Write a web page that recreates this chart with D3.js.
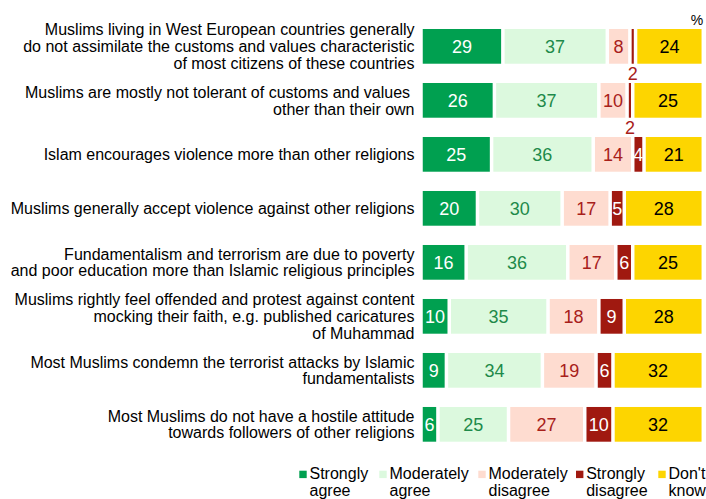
<!DOCTYPE html>
<html>
<head>
<meta charset="utf-8">
<script src="https://cdn.jsdelivr.net/npm/d3@7"></script>
<style>
  html, body { margin: 0; padding: 0; background: #fff; }
  svg { display: block; font-family: "Liberation Sans", Arial, sans-serif; }
  text { white-space: pre; }
</style>
</head>
<body>
<svg id="chart" width="706" height="499"></svg>
<script>
// Statements (each a list of wrapped lines)
const statements = [
  ["Muslims living in West European countries generally",
   "do not assimilate the customs and values characteristic",
   "of most citizens of these countries"],
  ["Muslims are mostly not tolerant of customs and values ",
   "other than their own"],
  ["Islam encourages violence more than other religions"],
  ["Muslims generally accept violence against other religions"],
  ["Fundamentalism and terrorism are due to poverty",
   "and poor education more than Islamic religious principles"],
  ["Muslims rightly feel offended and protest against content",
   "mocking their faith, e.g. published caricatures",
   "of Muhammad"],
  ["Most Muslims condemn the terrorist attacks by Islamic",
   "fundamentalists"],
  ["Most Muslims do not have a hostile attitude",
   "towards followers of other religions"]
];

// Answer shares in %, one value per statement
const stronglyAgree      = [29, 26, 25, 20, 16, 10, 9, 6];
const moderatelyAgree    = [37, 37, 36, 30, 36, 35, 34, 25];
const moderatelyDisagree = [8, 10, 14, 17, 17, 18, 19, 27];
const stronglyDisagree   = [2, 2, 4, 5, 6, 9, 6, 10];
const dontKnow           = [24, 25, 21, 28, 25, 28, 32, 32];

const seriesKeys   = ["sa", "ma", "md", "sd", "dk"];
const seriesLabels = [["Strongly", "agree"], ["Moderately", "agree"],
                      ["Moderately", "disagree"], ["Strongly", "disagree"],
                      ["Don't", "know"]];
const fillColors   = ["#00a050", "#dcf9de", "#fedcd0", "#a01910", "#fdd500"];
const textColors   = ["#ffffff", "#1e8a4a", "#a8201a", "#ffffff", "#000000"];

// Legend entry offsets (layout)
const legendX = [299.3, 379.3, 478.3, 576, 658.3];

const rows = statements.map((s, i) => ({
  idx: i, sa: stronglyAgree[i], ma: moderatelyAgree[i],
  md: moderatelyDisagree[i], sd: stronglyDisagree[i], dk: dontKnow[i]
}));

const svg = d3.select("#chart");
const FONT = 16;
const gapHalf = 1.75;

const x = d3.scaleLinear().domain([0, 100]).range([421, 703.3]);
const y = d3.scaleBand().domain(rows.map(d => d.idx))
  .range([29, 441.7]).paddingInner(0.357).paddingOuter(0);

const stacked = d3.stack().keys(seriesKeys)(rows);

// Bars
const layers = svg.append("g").selectAll("g")
  .data(stacked).join("g")
  .attr("fill", (d, i) => fillColors[i]);

layers.selectAll("rect")
  .data(d => d).join("rect")
  .attr("x", d => x(d[0]) + gapHalf)
  .attr("y", d => y(d.data.idx))
  .attr("width", d => Math.max(0, x(d[1]) - x(d[0]) - 2 * gapHalf))
  .attr("height", y.bandwidth());

// Value labels (narrow segments get their label under the bar)
stacked.forEach((layer, li) => {
  svg.append("g").selectAll("text")
    .data(layer).join("text")
    .attr("text-anchor", "middle")
    .attr("font-size", 18)
    .attr("x", d => (x(d[0]) + x(d[1])) / 2)
    .attr("y", d => {
      const v = d[1] - d[0];
      const cy = y(d.data.idx) + y.bandwidth() / 2;
      return v < 3 ? y(d.data.idx) + y.bandwidth() + 9.8 + 6.4 : cy + 6.4;
    })
    .attr("fill", d => (d[1] - d[0]) < 3 ? "#a8201a" : textColors[li])
    .text(d => d[1] - d[0]);
});

// Statement labels
const lineH = 16.7;
const labels = svg.append("g").attr("font-size", FONT).attr("fill", "#000")
  .attr("text-anchor", "end");
rows.forEach((r, i) => {
  const lines = statements[i];
  const cy = y(r.idx) + y.bandwidth() / 2;
  lines.forEach((ln, j) => {
    labels.append("text")
      .attr("x", 414.5)
      .attr("y", cy + (j - (lines.length - 1) / 2) * lineH + 5.8)
      .text(ln);
  });
});

// Unit
svg.append("text").attr("x", 703.3).attr("y", 24.5)
  .attr("text-anchor", "end").attr("font-size", 14).text("%");

// Legend
const legend = svg.append("g").attr("font-size", FONT);
seriesLabels.forEach((lab, i) => {
  const lx = legendX[i];
  const g = legend.append("g");
  g.append("rect").attr("x", lx).attr("y", 470.7)
    .attr("width", 7.4).attr("height", 7.4).attr("fill", fillColors[i]);
  lab.forEach((t, j) => {
    g.append("text").attr("x", lx + 10.2)
      .attr("y", 479.3 + j * 16.5).text(t);
  });
});
</script>
</body>
</html>
